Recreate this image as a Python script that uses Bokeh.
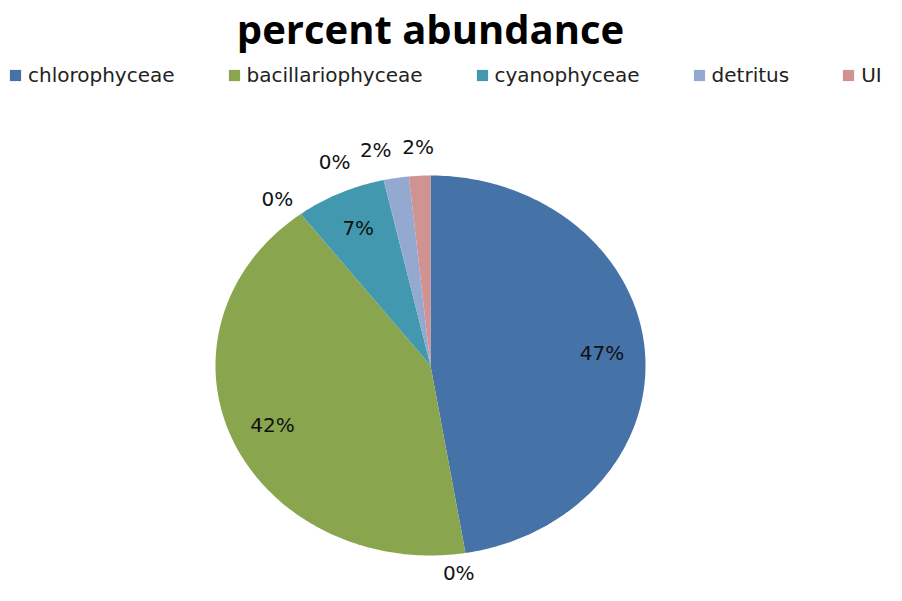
import numpy as np
from bokeh.plotting import figure
from bokeh.models import ColumnDataSource, Range1d, Legend, LegendItem, Label
from bokeh.core.properties import value
from bokeh.embed import file_html
from bokeh.resources import INLINE

# ---------------- data ----------------
title_text = "percent abundance"
categories = ["chlorophyceae", "", "bacillariophyceae", "", "cyanophyceae", "", "detritus", "UI"]
percent = [47.4, 0.0, 42.3, 0.0, 6.8, 0.0, 1.9, 1.6]
colors = ["#4572A7", "#AA4643", "#89A54E", "#71588F", "#4198AF", "#DB843D", "#93A9CF", "#D19392"]

# ---------------- layout / style ----------------
W, H = 886, 585            # figure size in px
CX, CY = 430, 365          # pie centre in px (from top-left)
RX, RY = 215, 190          # pie radii in px (chart is stretched horizontally)
INSIDE_R = 0.80
outside_r = [1.10, 1.10, 1.10, 1.13, 1.10, 1.16, 1.16, 1.15]
label_nudge_deg = [0, 2.5, 0, -2, 0, -10, -3.5, 0]
FONT = "DejaVu Sans"

p = figure(width=W, height=H, output_backend="svg", toolbar_location=None,
           x_range=Range1d(-CX / RX, (W - CX) / RX),
           y_range=Range1d(-(H - CY) / RY, CY / RY),
           min_border=0, outline_line_color=None, background_fill_color="white",
           border_fill_color="white")
p.xaxis.visible = False
p.yaxis.visible = False
p.grid.visible = False

# ---------------- slices ----------------
vals = np.array(percent, dtype=float)
frac = vals / vals.sum()
ends = np.cumsum(frac) * 2 * np.pi
starts = ends - frac * 2 * np.pi

xs, ys = [], []
for a0, a1 in zip(starts, ends):
    n = max(2, int(np.ceil((a1 - a0) / (2 * np.pi) * 400)))
    t = np.linspace(a0, a1, n)
    xs.append([0.0] + list(np.sin(t)) + [0.0])
    ys.append([0.0] + list(np.cos(t)) + [0.0])

src = ColumnDataSource(dict(xs=xs, ys=ys, color=colors, cat=categories))
r = p.patches("xs", "ys", source=src, fill_color="color", line_color="color",
              line_alpha=0.0, line_width=0)

# ---------------- data labels ----------------
lx, ly, lt = [], [], []
for i, (a0, a1, v) in enumerate(zip(starts, ends, vals)):
    mid = (a0 + a1) / 2 + np.deg2rad(label_nudge_deg[i])
    rr = INSIDE_R if v >= 5 else outside_r[i]
    lx.append(rr * np.sin(mid))
    ly.append(rr * np.cos(mid))
    lt.append(f"{round(v):.0f}%")
p.text(x=lx, y=ly, text=lt, text_align="center", text_baseline="middle",
       text_font=value(FONT), text_font_size="20px", text_color="#111111")

# ---------------- title ----------------
p.add_layout(Label(x=0, y=(CY - 28) / RY, text=title_text,
                   text_align="center", text_baseline="alphabetic",
                   text_font="Open Sans", text_font_style="bold",
                   text_font_size="40px", text_color="#000000"))

# ---------------- legend ----------------
items = [LegendItem(label=c, renderers=[r], index=i)
         for i, c in enumerate(categories) if c]
legend = Legend(items=items, orientation="horizontal", location=(8, 498),
                spacing=52, padding=0, margin=0, border_line_color=None,
                background_fill_alpha=0, glyph_width=14, glyph_height=14,
                label_standoff=6, label_text_font=FONT, label_text_font_size="20px",
                label_text_color="#222222")
p.add_layout(legend)

open("out.html", "w").write(file_html(p, INLINE))
